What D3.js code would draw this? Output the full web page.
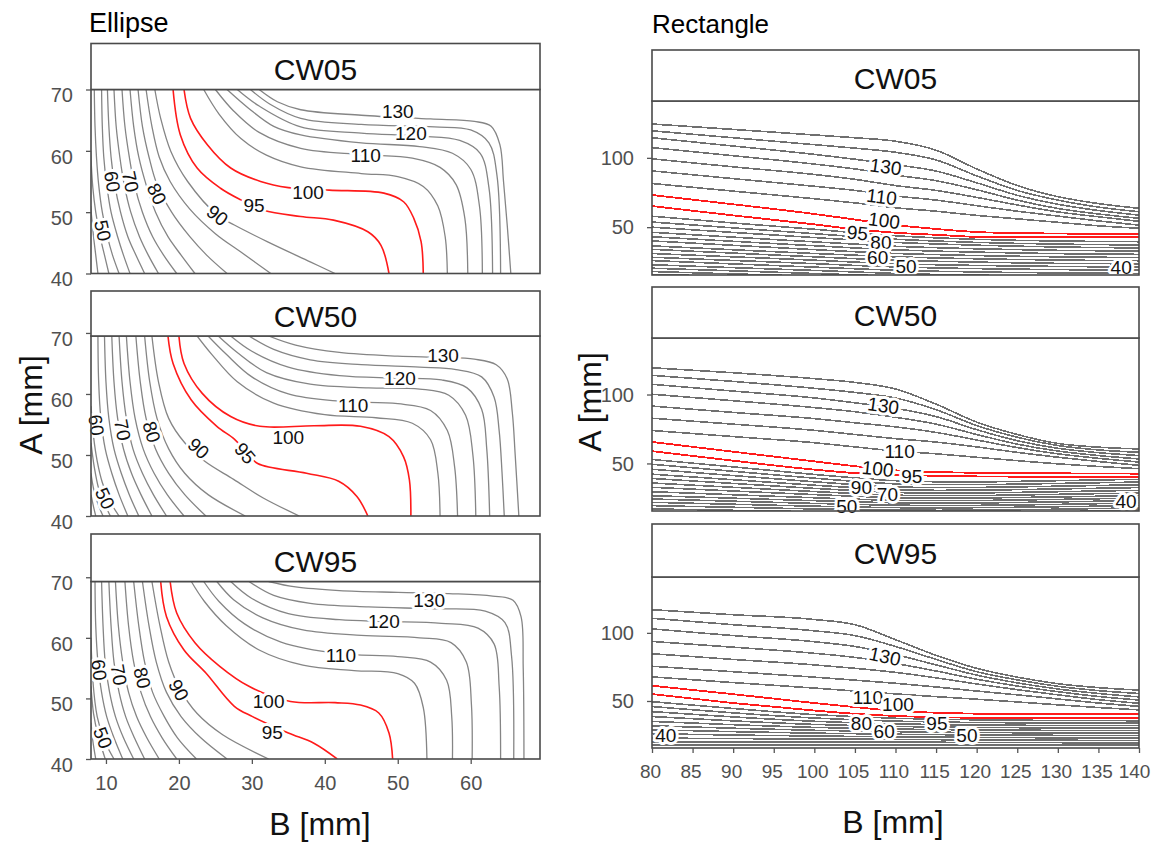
<!DOCTYPE html>
<html>
<head>
<meta charset="utf-8">
<script src="https://cdn.jsdelivr.net/npm/d3@7"></script>
<style>
  body { margin: 0; background: #fff; }
  svg { display: block; font-family: "Liberation Sans", Arial, sans-serif; }
</style>
</head>
<body>
<svg id="chart" width="1151" height="845"></svg>
<script>
// ---------------------------------------------------------------------------
// Ellipse cross-section: iso-lines of the score over B (x) and A (y), in mm.
// Each line is a list of [B, A] vertices.
// ---------------------------------------------------------------------------
const ellipseCW05 = [
  {level: 40,  pts: [[7.9,51],[8.3,46],[8.6,43],[8.9,40]]},
  {level: 45,  pts: [[7.9,60],[8.2,54],[8.6,50],[9.2,46],[9.8,43],[10.4,40]]},
  {level: 50,  pts: [[8.4,70],[8.5,64],[8.7,59],[9,54.5],[9.5,50],[10.2,46],[10.9,43],[11.8,40]]},
  {level: 55,  pts: [[9.4,70],[9.5,64],[9.7,59],[10.1,54.5],[10.7,50],[11.6,46],[12.4,43],[13.3,40]]},
  {level: 60,  pts: [[10.2,70],[10.4,64],[10.7,59],[11.2,54.5],[12,50],[13,46],[14.1,43],[15.3,40]]},
  {level: 65,  pts: [[11.1,70],[11.4,64],[11.9,59],[12.5,54.5],[13.4,50],[14.6,46],[15.8,43],[17.2,40]]},
  {level: 70,  pts: [[12.2,70],[12.6,64],[13.2,59],[13.9,54.5],[15,50],[16.4,46],[17.9,43],[19.7,40]]},
  {level: 75,  pts: [[13.3,70],[13.8,64],[14.5,59],[15.5,54.5],[16.8,50],[18.5,46],[20.3,43],[22.2,40]]},
  {level: 80,  pts: [[14.4,70],[15,64],[15.9,59],[17,54.5],[19,50],[21.5,46],[23.8,43],[26.6,40]]},
  {level: 85,  pts: [[15.5,70],[16.3,64],[17.3,59],[18.8,55],[21.5,50.5],[25,46.5],[28.5,43.5],[32.6,40]]},
  {level: 90,  pts: [[16.7,70],[17.5,65.3],[18.9,59.9],[21.2,55],[25.3,49.5],[27.6,47.9],[32.1,45.2],[38,41.9],[41.4,40]]},
  {level: 95,  pts: [[19.2,70],[20.2,62.6],[22.5,57.2],[25.7,53.9],[28.5,52],[31.6,50.3],[36.7,49.3],[41.2,48.7],[45.9,46.8],[47.7,44.6],[48.8,40]]},
  {level: 100, pts: [[20.7,70],[21.6,65.3],[23.9,61],[27.1,57.2],[31.2,55],[35,54],[40.6,53.6],[48.1,53.1],[50.8,51.7],[52.2,49],[53.2,45.2],[53.5,40]]},
  {level: 105, pts: [[23.4,70],[25.5,66],[28.5,62],[32,59.3],[36.7,57.4],[45,56.3],[50,55.8],[53.5,54.2],[55.5,51],[56.5,46],[56.8,40]]},
  {level: 110, pts: [[25,70],[27.5,66.5],[31,63],[36.7,60.4],[45,59.4],[52,58.8],[55.8,57.3],[58,54.5],[59.2,49],[59.6,40]]},
  {level: 115, pts: [[26.6,70],[29.5,67],[33,64],[36.7,62.6],[45,61.3],[53,60.7],[57.5,59.6],[60,57],[61.2,51],[61.6,40]]},
  {level: 120, pts: [[28,70],[31,67.3],[36.7,63.9],[45,62.9],[53,62.4],[58.5,61.7],[61.3,59.6],[62.5,54],[63,40]]},
  {level: 125, pts: [[29.8,70],[32.5,67.6],[36.7,65.3],[45,64.3],[55,63.9],[60,63.4],[62.5,61.3],[63.6,56],[64.1,40]]},
  {level: 130, pts: [[31,70],[33.5,68],[36.7,66.7],[45,65.8],[54.5,65.2],[60.5,64.8],[62.8,64],[64,61],[64.5,55],[65,48],[65.5,40]]}
];
const ellipseCW05Labels = [[50,9.6,47],[60,10.9,55],[70,13.4,55],[80,17,53],[90,25.3,49.5],[95,30.3,51.2],[100,37.7,53.3],[110,45.6,59.3],[120,51.8,62.9],[130,50,66.4]];

const ellipseCW50 = [
  {level: 35,  pts: [[7.95,43.5],[8.3,41.5],[8.6,40]]},
  {level: 40,  pts: [[7.95,47],[8.3,44.5],[8.9,42],[9.6,40]]},
  {level: 45,  pts: [[7.95,52],[8.4,48],[9,44.5],[9.8,42],[10.6,40]]},
  {level: 50,  pts: [[7.95,58],[8.3,53],[8.8,49],[9.5,45.5],[10.5,42.5],[11.8,40]]},
  {level: 55,  pts: [[8.9,69.5],[9,62],[9.3,56],[9.9,51],[10.8,47],[11.8,43.5],[13,40]]},
  {level: 60,  pts: [[9.8,69.5],[10,62],[10.4,56],[11.1,51],[12.1,47],[13.2,43.5],[14.5,40]]},
  {level: 65,  pts: [[10.8,69.5],[11.1,62],[11.6,56],[12.4,51],[13.5,47],[14.8,43.5],[16.3,40]]},
  {level: 70,  pts: [[11.8,69.5],[12.2,62],[12.8,56],[13.7,51],[15,47],[16.5,43.5],[18.3,40]]},
  {level: 75,  pts: [[12.8,69.5],[13.3,62],[14,56],[15.1,51],[16.6,47],[18.4,43.5],[20.7,40]]},
  {level: 80,  pts: [[14.1,69.5],[14.7,62],[15.5,56],[16.8,51],[18.6,47],[20.8,43.5],[23.7,40]]},
  {level: 85,  pts: [[15.3,69.5],[16,62],[17,56],[18.6,51],[20.8,47],[24,43.5],[29.1,40]]},
  {level: 90,  pts: [[16.3,69.5],[17.2,62],[18.6,56],[20.8,52],[23.5,49],[27.5,46],[31.5,43],[36.5,40]]},
  {level: 95,  pts: [[18.5,69.5],[19.2,65],[21.7,59],[25.2,54.7],[27.6,52.6],[29.2,50.5],[30.8,48.6],[37.5,47],[41.9,45.7],[44.4,43.2],[45.9,40]]},
  {level: 100, pts: [[20,69.5],[20.7,65],[23.2,60.1],[27.1,56.3],[31.1,54.7],[38.5,54.8],[44.9,54.7],[48.8,53],[50.8,49.7],[51.6,45.9],[51.8,40]]},
  {level: 105, pts: [[22.5,69.5],[24.5,66.5],[28,62],[33,58.5],[40,56.6],[47,56.1],[52,55.2],[54.5,52.5],[55.5,47],[55.8,40]]},
  {level: 110, pts: [[24,69.5],[26.5,66.5],[30,62.8],[35,60],[42,58.8],[50,58.4],[54.5,57.3],[56.8,54],[57.8,48],[58.2,40]]},
  {level: 115, pts: [[25.4,69.5],[28,66.8],[32,63.5],[38,61.6],[46,61],[53,60.8],[57,59.8],[59.3,56.5],[60.3,50],[60.7,40]]},
  {level: 120, pts: [[27.1,69.5],[30,67],[35,64.4],[42,63],[50,62.6],[56,62.3],[59.5,61],[61.5,57.5],[62.2,51],[62.6,40]]},
  {level: 125, pts: [[29.6,69.5],[33,67.3],[38,65.6],[45,64.8],[53,64.4],[58,64],[61.5,62.8],[63.2,59.5],[63.9,54],[64.3,47],[64.6,40]]},
  {level: 130, pts: [[32.3,69.5],[36,68],[42,66.8],[50,66.2],[56,66],[60.5,65.7],[63.5,64.8],[65,62.5],[65.7,57],[66.1,50],[66.6,40]]}
];
const ellipseCW50Labels = [[50,9.9,42.9],[60,8.7,54.9],[70,12.3,54.1],[80,16.3,53.8],[90,22.7,51.1],[95,29.1,50.3],[100,35,53],[110,43.9,58.2],[120,50.3,62.6],[130,56.2,66.4]];

const ellipseCW95 = [
  {level: 40,  pts: [[7.95,46],[8.2,43],[8.6,40]]},
  {level: 45,  pts: [[7.95,52],[8.3,47.5],[8.9,44],[9.9,40]]},
  {level: 50,  pts: [[7.95,60],[8.2,53],[8.8,47],[9.8,43],[11.1,40]]},
  {level: 55,  pts: [[8.5,69.3],[8.6,62],[8.9,56],[9.4,51],[10.1,47],[11.1,43.5],[12.3,40]]},
  {level: 60,  pts: [[9.4,69.3],[9.6,62],[9.9,56],[10.5,51],[11.3,47],[12.4,43.5],[13.8,40]]},
  {level: 65,  pts: [[10.4,69.3],[10.7,62],[11.1,56],[11.8,51],[12.7,47],[13.9,43.5],[15.3,40]]},
  {level: 70,  pts: [[11.3,69.3],[11.7,62],[12.3,56],[13.1,51],[14.2,47],[15.6,43.5],[17.3,40]]},
  {level: 75,  pts: [[12.6,69.3],[13.1,62],[13.8,56],[14.8,51],[16.1,47],[17.7,43.5],[19.7,40]]},
  {level: 80,  pts: [[13.8,69.3],[14.5,62],[15.3,56],[16.4,51],[18,47],[19.8,43.5],[22.4,40]]},
  {level: 85,  pts: [[15,69.3],[15.9,62],[16.9,56],[18.3,51],[20.3,47],[23,43.5],[26.6,40]]},
  {level: 90,  pts: [[16.3,69.3],[17.4,62],[18.6,56],[20.2,51.4],[22.5,47.5],[26,44],[32.3,40]]},
  {level: 95,  pts: [[17.5,69.3],[18.3,63.5],[20.7,58],[23.7,54.2],[27.6,48.7],[30.1,47],[35,44.3],[38.5,42.6],[41.7,40]]},
  {level: 100, pts: [[18.8,69.3],[19.7,64.1],[22.2,59.2],[25.6,55.3],[29.6,52],[35.3,49.5],[41.4,49.3],[44.9,48.9],[47.4,47.6],[48.8,44.3],[49.3,40]]},
  {level: 105, pts: [[21.7,69.3],[23.5,66],[26.5,62],[31,58],[37,55.5],[44,54.6],[50,54.1],[52.3,52.5],[53.5,48.5],[54,40]]},
  {level: 110, pts: [[23.4,69.3],[25.5,66],[29,62.3],[34,59.3],[42,57.4],[50,56.9],[54.5,56],[56.7,53],[57.4,47],[57.5,40]]},
  {level: 115, pts: [[25.2,69.3],[27.5,66.3],[31.5,63.3],[37,61.3],[45,60.4],[53,60],[57.3,59.2],[59.4,56],[60.1,49],[60.2,40]]},
  {level: 120, pts: [[27.1,69.3],[30,66.5],[35,64],[42,63],[48,62.7],[56,62.4],[61,61.6],[63.2,59],[63.9,52],[64.1,40]]},
  {level: 125, pts: [[29.6,69.3],[33,67],[38,65.7],[46,65.1],[55,64.8],[62,64.4],[64.7,62.5],[65.6,57],[65.9,40]]},
  {level: 130, pts: [[32.3,69.3],[36,68.4],[42,67.8],[50,67.5],[57,67.3],[63,66.9],[65.8,66.2],[66.9,63.5],[67.2,55],[67.3,40]]}
];
const ellipseCW95Labels = [[50,9.6,43.5],[60,9.1,54.7],[70,11.8,53.9],[80,15,53.4],[90,20,51.4],[95,32.8,44.4],[100,32.3,49.5],[110,42.2,57.2],[120,48.1,62.7],[130,54.3,66.3]];

// ---------------------------------------------------------------------------
// Rectangle cross-section: every iso-line is sampled at the same B positions;
// each row gives A (mm) at those B values.
// ---------------------------------------------------------------------------
const rectB = [80, 90, 100, 105, 110, 115, 120, 125, 130, 135, 140];

const rectCW05 = [
  {level: 140, a: [124.4,120.5,116.5,114.5,112,105.5,92,80,72,67,63.6]},
  {level: 135, a: [119.5,114.5,109.5,107,104,98.5,87,76.5,69.5,64.5,61.1]},
  {level: 130, a: [114.5,108.5,102.5,99,95,90.5,82,73,66.5,62,58.7]},
  {level: 125, a: [107.4,101.5,95.5,92,87.5,83.5,77,69.5,63.5,59.5,56.4]},
  {level: 120, a: [99.3,93.5,88,84.5,80,76.5,71.5,66,61,57.5,54.2]},
  {level: 115, a: [90.6,85,79.5,76.5,72.5,69.5,65.5,61.5,58,54.5,51.5]},
  {level: 110, a: [81.5,76,70.5,67.5,64,61.5,58.5,56,53.5,51,49.2]},
  {level: 100, a: [73.2,66.5,59.5,55.5,51.5,48.7,46.5,45.7,45.4,45.2,45]},
  {level: 95,  a: [65.2,58.5,52,48.5,46,44.5,43,42.7,42.7,42.7,42.7]},
  {level: 90,  a: [57.9,53,48.5,46,43.8,42.3,41.2,40.5,40,39.7,39.5]},
  {level: 85,  a: [53.7,49.5,45.3,43.2,41.3,40,39,38.3,37.8,37.4,37.2]},
  {level: 80,  a: [50,46.2,42.5,40.7,39,37.9,37,36.3,35.7,35.3,35]},
  {level: 75,  a: [46.3,42.8,39.4,37.8,36.2,35.2,34.4,33.8,33.3,33,32.7]},
  {level: 70,  a: [43.1,39.8,36.6,35,33.6,32.7,32,31.4,30.9,30.6,30.4]},
  {level: 65,  a: [40.1,36.9,33.8,32.3,31,30.2,29.5,29,28.6,28.3,28.1]},
  {level: 60,  a: [36.5,33.7,31,29.8,28.6,27.8,27.2,26.7,26.3,26,25.8]},
  {level: 55,  a: [34,31.3,28.6,27.3,26.1,25.4,24.8,24.3,23.9,23.7,23.5]},
  {level: 50,  a: [31,28.6,26.2,24.8,23.6,22.9,22.4,22,21.7,21.4,21.2]},
  {level: 45,  a: [28.3,26,23.7,22.4,21.3,20.6,20.1,19.7,19.4,19.1,18.9]},
  {level: 40,  a: [25.9,23.5,21.2,20,18.9,18.2,17.7,17.3,17,16.8,16.7]},
  {level: 35,  a: [22.9,20.8,18.8,17.7,16.6,15.9,15.4,15,14.7,14.5,14.4]},
  {level: 30,  a: [20.4,18.5,16.6,15.6,14.6,13.9,13.4,13,12.7,12.5,12.4]},
  {level: 25,  a: [18,16.3,14.6,13.7,12.8,12.2,11.7,11.3,11,10.8,10.7]},
  {level: 20,  a: [16,14.4,12.8,12,11.2,10.6,10.1,9.8,9.5,9.3,9.2]}
];
const rectCW05Labels = [[130,108.8,93.7],[110,108.3,72],[100,108.6,55],[95,105.3,46],[80,108.2,39],[60,107.8,28.6],[50,111.3,21.6],[40,137.8,21]];

const rectCW50 = [
  {level: 140, a: [119.4,115.8,111.5,108.8,104,93,80,71,64.5,61.8,60.5]},
  {level: 135, a: [113.9,109.5,104.5,101.5,97.5,89,77.5,69,63,59.8,58.1]},
  {level: 130, a: [107.4,102.5,97.5,94,90,84,74.5,66.5,61,57.8,55.7]},
  {level: 125, a: [100.2,95.5,90.5,87.5,83.5,78.5,71,64,59,55.7,53.3]},
  {level: 120, a: [91.6,87,82.5,79.5,76.5,72.5,67,61.5,57,53.7,51]},
  {level: 115, a: [82.8,78.5,74,71,68,65.5,62,58,54.5,51.4,48.6]},
  {level: 110, a: [73.9,69.5,65,62,59,57,54.5,52,49.7,47.8,46.2]},
  {level: 100, a: [65.6,58.5,51.5,48,45,43.8,43.2,43,42.8,42.7,42.6]},
  {level: 95,  a: [58.9,52,45.5,43,41.8,41,40.6,40.4,40.3,40.2,40.2]},
  {level: 90,  a: [52.9,47.5,42,39.5,37.5,36.7,36.6,37,37.5,38,38.5]},
  {level: 85,  a: [49.4,44.3,39.3,37,35.2,34.6,34.6,35,35.5,36,36.5]},
  {level: 80,  a: [45.8,41.2,36.7,34.6,33,32.5,32.6,33,33.5,34,34.5]},
  {level: 75,  a: [42.2,38.2,34.2,32.4,30.9,30.5,30.6,31,31.5,32,32.5]},
  {level: 70,  a: [39.1,35.5,31.9,30.3,28.9,28.5,28.6,29,29.5,30,30.5]},
  {level: 65,  a: [35.8,32.7,29.6,28.2,27,26.6,26.7,27.1,27.6,28.1,28.5]},
  {level: 60,  a: [32.7,30,27.4,26.2,25.1,24.8,24.9,25.3,25.7,26.2,26.6]},
  {level: 55,  a: [29.5,27.3,25.1,24.1,23.2,23,23.1,23.5,23.9,24.4,24.8]},
  {level: 50,  a: [26.6,24.8,23,22.2,21.4,21.2,21.3,21.7,22.1,22.6,23]},
  {level: 45,  a: [24.2,22.6,21,20.3,19.7,19.5,19.6,19.9,20.3,20.8,21.2]},
  {level: 40,  a: [21.8,20.4,19,18.4,17.9,17.8,17.9,18.2,18.6,19,19.5]},
  {level: 35,  a: [19.4,18.2,17,16.5,16.1,16,16.1,16.4,16.8,17.3,17.8]},
  {level: 30,  a: [17,16,15,14.6,14.3,14.2,14.3,14.6,15,15.5,16.1]}
];
const rectCW50Labels = [[130,108.5,92],[110,110.5,58.9],[100,107.8,46.3],[95,112,40.9],[90,105.8,32.6],[70,109,27.4],[50,104,19.3],[40,138.4,23]];

const rectCW95 = [
  {level: 140, a: [117,113.3,109.8,106,95,83.5,74,67.5,62.7,59.8,58]},
  {level: 135, a: [110.7,106,101.5,98,90,80.5,71.5,65.5,60.8,57.6,55.5]},
  {level: 130, a: [102.9,98,93.5,90,84,76.5,69,63.3,58.8,55.5,53]},
  {level: 125, a: [93.7,89.5,85,82,77.5,72,66,61,56.8,53.3,50.7]},
  {level: 120, a: [84.7,80.5,76.5,74,71,67,62.5,58.3,54.5,51,48.3]},
  {level: 115, a: [75.5,71.5,67.5,65.3,63,60.3,57.3,54.5,51.5,48.5,46]},
  {level: 110, a: [67.7,63.5,59.5,57.3,55.2,53.2,51.3,49.3,47.2,45.2,43.5]},
  {level: 100, a: [61.2,55,48.5,45.5,42.7,41.4,40.7,40.5,40.5,40.5,40.5]},
  {level: 95,  a: [55.1,48.5,43,40.6,39,38.1,37.6,37.4,37.4,37.4,37.4]},
  {level: 90,  a: [49.5,44.5,40,38.5,37.3,36.6,36.2,35.9,35.7,35.6,35.5]},
  {level: 85,  a: [45.9,41.3,37.5,36.2,35.2,34.6,34.2,34,33.8,33.7,33.7]},
  {level: 80,  a: [42.2,38.3,35.1,34,33.2,32.7,32.4,32.2,32,31.9,31.9]},
  {level: 75,  a: [38.6,35.4,32.8,32,31.3,30.9,30.6,30.4,30.2,30.1,30.1]},
  {level: 70,  a: [35,32.6,30.6,30,29.4,29,28.8,28.6,28.4,28.3,28.3]},
  {level: 65,  a: [31.8,30,28.5,28,27.5,27.1,26.9,26.7,26.6,26.5,26.5]},
  {level: 60,  a: [28.9,27.5,26.4,26,25.6,25.3,25.1,24.9,24.8,24.7,24.7]},
  {level: 55,  a: [26,25,24.3,24,23.7,23.5,23.3,23.1,23,22.9,22.9]},
  {level: 50,  a: [22.8,22.4,22.1,22,21.8,21.6,21.5,21.3,21.2,21.1,21.1]},
  {level: 45,  a: [19.9,19.8,19.8,19.8,19.8,19.7,19.6,19.5,19.4,19.3,19.3]},
  {level: 40,  a: [17.5,17.5,17.6,17.7,17.7,17.7,17.6,17.6,17.5,17.5,17.5]}
];
const rectCW95Labels = [[130,108.7,82.9],[110,106.6,53.1],[100,110.3,47.7],[95,115.1,33.7],[80,105.8,33.7],[60,108.6,27.7],[50,118.8,25.2],[40,81.7,25.2]];

// Levels drawn in red
const highlightLevels = [95, 100];

// Axis ticks
const ellipseYTicks = [40, 50, 60, 70];
const ellipseXTicks = [10, 20, 30, 40, 50, 60];
const rectYTicks = [50, 100];
const rectXTicks = [80, 85, 90, 95, 100, 105, 110, 115, 120, 125, 130, 135, 140];

// ---------------------------------------------------------------------------
const svg = d3.select("#chart");
const defs = svg.append("defs");
let clipSeq = 0;

function drawPanel(o) {
  const x = d3.scaleLinear().domain(o.xDomain).range([o.left, o.right]);
  const y = d3.scaleLinear().domain(o.yDomain).range([o.bottom, o.top]);
  const g = svg.append("g");

  const id = "plotclip" + (clipSeq++);
  defs.append("clipPath").attr("id", id).append("rect")
    .attr("x", o.left).attr("y", o.top)
    .attr("width", o.right - o.left).attr("height", o.bottom - o.top);

  const line = d3.line().x(d => x(d[0])).y(d => y(d[1])).curve(o.curve);
  const lg = g.append("g").attr("clip-path", `url(#${id})`);
  const nodes = {};
  // grey lines first, red ones on top
  const ordered = o.lines.slice().sort((p, q) =>
    (highlightLevels.includes(p.level) ? 1 : 0) - (highlightLevels.includes(q.level) ? 1 : 0));
  ordered.forEach(l => {
    const red = highlightLevels.includes(l.level);
    const p = lg.append("path")
      .attr("d", line(l.pts))
      .attr("fill", "none")
      .attr("stroke", red ? "#ff1a1a" : o.grey)
      .attr("stroke-width", red ? o.redWidth : o.greyWidth)
      .attr("stroke-linejoin", "round");
    if (o.crisp) p.attr("shape-rendering", "crispEdges");
    nodes[l.level] = p.node();
  });

  // level labels, turned along the nearest stretch of their line;
  // gentle slopes are written level
  o.labels.forEach(([lev, b, a]) => {
    const px = x(b), py = y(a);
    let ang = 0;
    const node = nodes[lev];
    if (node) {
      const len = node.getTotalLength();
      let best = 0, bestD = Infinity;
      for (let s = 0; s <= len; s += 1) {
        const pt = node.getPointAtLength(s);
        const d = (pt.x - px) ** 2 + (pt.y - py) ** 2;
        if (d < bestD) { bestD = d; best = s; }
      }
      const p1 = node.getPointAtLength(Math.max(0, best - 7));
      const p2 = node.getPointAtLength(Math.min(len, best + 7));
      ang = Math.atan2(p2.y - p1.y, p2.x - p1.x) * 180 / Math.PI;
      if (ang > 90) ang -= 180;
      if (ang < -90) ang += 180;
      if (Math.abs(ang) < o.levelBelow) ang = 0;
    }
    g.append("text")
      .attr("transform", `translate(${px},${py}) rotate(${ang})`)
      .attr("text-anchor", "middle")
      .attr("dy", "0.36em")
      .attr("font-size", 19)
      .attr("fill", "#111")
      .attr("stroke", "#fff")
      .attr("stroke-width", 6)
      .attr("stroke-linejoin", "round")
      .attr("paint-order", "stroke")
      .text(lev);
  });

  // frame
  g.append("rect")
    .attr("x", o.left).attr("y", o.top)
    .attr("width", o.right - o.left).attr("height", o.bottom - o.top)
    .attr("fill", "none").attr("stroke", "#4a4a4a").attr("stroke-width", 1.6);

  // strip with the panel title
  g.append("rect")
    .attr("x", o.left).attr("y", o.stripTop)
    .attr("width", o.right - o.left).attr("height", o.top - o.stripTop)
    .attr("fill", "#fff").attr("stroke", "#4a4a4a").attr("stroke-width", 1.6);
  g.append("text")
    .attr("x", (o.left + o.right) / 2)
    .attr("y", (o.stripTop + o.top) / 2 + 3)
    .attr("dy", "0.36em")
    .attr("text-anchor", "middle")
    .attr("font-size", 30)
    .attr("fill", "#111")
    .text(o.title);

  // y axis
  const ya = g.append("g")
    .attr("transform", `translate(${o.left},0)`)
    .call(d3.axisLeft(y).tickValues(o.yTicks).tickSize(5).tickPadding(13).tickFormat(d3.format("d")));
  ya.select(".domain").remove();
  ya.selectAll(".tick line").attr("stroke", "#555").attr("stroke-width", 1.3);
  ya.selectAll(".tick text")
    .attr("font-family", null).attr("font-size", 20).attr("fill", "#505050")
    .attr("dy", o.yLabelDy);

  if (o.xTicks) {
    const xa = g.append("g")
      .attr("transform", `translate(0,${o.bottom})`)
      .call(d3.axisBottom(x).tickValues(o.xTicks).tickSize(5).tickPadding(12).tickFormat(d3.format("d")));
    xa.select(".domain").remove();
    xa.selectAll(".tick line").attr("stroke", "#555").attr("stroke-width", 1.3);
    const last = o.xTicks.length - 1;
    xa.selectAll(".tick text")
      .attr("font-family", null).attr("font-size", o.xTickSize).attr("fill", "#505050")
      .attr("dx", (d, i) => i === last ? (o.lastTickDx || 0) : (o.tickDx || 0));
  }
}

const asPoints = rows => rows.map(r => ({level: r.level, pts: rectB.map((b, i) => [b, r.a[i]])}));

// ---- Ellipse column ----
const ellipseCommon = {
  xDomain: [7.95, 69.5], left: 91, right: 540,
  curve: d3.curveCatmullRom.alpha(0.5),
  grey: "#858585", greyWidth: 1.3, redWidth: 1.6, crisp: false,
  yTicks: ellipseYTicks, yLabelDy: "0.62em", levelBelow: 35, xTickSize: 20
};
drawPanel({...ellipseCommon, title: "CW05", lines: ellipseCW05, labels: ellipseCW05Labels,
  stripTop: 43.5, top: 89.5, bottom: 273.5, yDomain: [40, 70]});
drawPanel({...ellipseCommon, title: "CW50", lines: ellipseCW50, labels: ellipseCW50Labels,
  stripTop: 291, top: 336, bottom: 516, yDomain: [40, 69.5]});
drawPanel({...ellipseCommon, title: "CW95", lines: ellipseCW95, labels: ellipseCW95Labels,
  stripTop: 534, top: 581.5, bottom: 759, yDomain: [40, 69.3], xTicks: ellipseXTicks});

// ---- Rectangle column ----
const rectCommon = {
  xDomain: [80, 140], left: 652, right: 1139,
  curve: d3.curveMonotoneX,
  grey: "#6f6f6f", greyWidth: 1.6, redWidth: 1.8, crisp: true,
  yTicks: rectYTicks, yLabelDy: "0.34em", levelBelow: 5, yDomain: [15.5, 141], xTickSize: 19
};
drawPanel({...rectCommon, title: "CW05", lines: asPoints(rectCW05), labels: rectCW05Labels,
  stripTop: 50, top: 101, bottom: 275});
drawPanel({...rectCommon, title: "CW50", lines: asPoints(rectCW50), labels: rectCW50Labels,
  stripTop: 287, top: 338, bottom: 511});
drawPanel({...rectCommon, title: "CW95", lines: asPoints(rectCW95), labels: rectCW95Labels,
  stripTop: 524, top: 577, bottom: 748, xTicks: rectXTicks, tickDx: -2, lastTickDx: -5});

// ---- column headings and axis titles ----
svg.append("text").attr("x", 89).attr("y", 32).attr("font-size", 27).attr("fill", "#000").text("Ellipse");
svg.append("text").attr("x", 652).attr("y", 33).attr("font-size", 26).attr("fill", "#000").text("Rectangle");

svg.append("text").attr("transform", "translate(42,405) rotate(-90)")
  .attr("text-anchor", "middle").attr("font-size", 32).attr("fill", "#111").text("A [mm]");
svg.append("text").attr("transform", "translate(601,402) rotate(-90)")
  .attr("text-anchor", "middle").attr("font-size", 32).attr("fill", "#111").text("A [mm]");
svg.append("text").attr("x", 320).attr("y", 835)
  .attr("text-anchor", "middle").attr("font-size", 32).attr("fill", "#111").text("B [mm]");
svg.append("text").attr("x", 893).attr("y", 833)
  .attr("text-anchor", "middle").attr("font-size", 32).attr("fill", "#111").text("B [mm]");
</script>
</body>
</html>
